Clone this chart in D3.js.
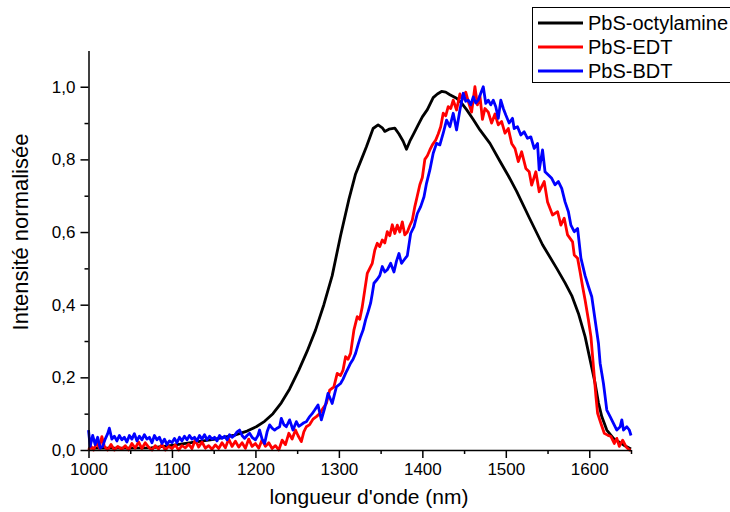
<!DOCTYPE html>
<html><head><meta charset="utf-8">
<script src="https://cdn.jsdelivr.net/npm/d3@7"></script>
<style>
html,body{margin:0;padding:0;background:#fff;}
svg{display:block;}
text{font-family:"Liberation Sans",Arial,sans-serif;fill:#000;}
</style></head>
<body><svg id="chart" width="730" height="512"></svg>
<script>
// ---- data ----
const seriesNames = ["PbS-octylamine", "PbS-EDT", "PbS-BDT"];
const seriesColors = ["#000000", "#ff0000", "#0000ff"];
const xTickLabels = [1000, 1100, 1200, 1300, 1400, 1500, 1600];
const yTickLabels = ["0,0", "0,2", "0,4", "0,6", "0,8", "1,0"];

const octylWl = [1000,1050,1075,1100,1125,1150,1175,1190,1201,1211,1221,1231,1241,1252,1262,1272,1282,1292,1302,1312,1320,1327,1333,1341,1347,1352,1355,1360,1367,1372,1377,1381,1385,1390,1395,1400,1406,1413,1418,1423,1428,1433,1441,1447,1453,1461,1469,1481,1493,1503,1513,1528,1544,1561,1571,1579,1587,1595,1601,1607,1611,1615,1621,1629,1641,1650];
const octylVal = [0.005,0.005,0.006,0.013,0.021,0.029,0.041,0.052,0.064,0.079,0.100,0.130,0.168,0.220,0.272,0.330,0.400,0.480,0.590,0.690,0.760,0.800,0.835,0.885,0.895,0.887,0.877,0.883,0.886,0.870,0.850,0.828,0.850,0.872,0.895,0.917,0.937,0.970,0.980,0.987,0.985,0.978,0.968,0.955,0.937,0.910,0.881,0.844,0.795,0.755,0.712,0.640,0.565,0.500,0.460,0.425,0.376,0.312,0.248,0.184,0.130,0.092,0.055,0.032,0.014,0.003];

const edtWl = [1000,1003,1006,1010,1013,1016,1019,1023,1027,1031,1035,1040,1044,1048,1052,1056,1060,1064,1068,1072,1076,1080,1084,1088,1092,1096,1100,1104,1108,1112,1116,1120,1124,1128,1132,1136,1140,1144,1148,1152,1156,1160,1164,1168,1172,1176,1180,1184,1188,1192,1196,1200,1204,1208,1212,1216,1220,1224,1228,1232,1236,1240,1244,1248,1251,1255,1258,1261,1265,1269,1273,1277,1281,1285,1289,1294,1298,1302,1305,1308,1311,1314,1318,1322,1325,1328,1331,1334,1337,1340,1343,1346,1349,1352,1355,1358,1361,1364,1367,1370,1373,1376,1379,1382,1385,1388,1391,1394,1397,1400,1403,1406,1409,1412,1416,1419,1422,1425,1428,1431,1434,1437,1441,1445,1448,1452,1455,1459,1463,1466,1469,1472,1475,1479,1483,1487,1491,1495,1499,1503,1507,1511,1515,1519,1524,1528,1531,1536,1540,1546,1550,1556,1562,1566,1570,1574,1580,1582,1586,1589,1592,1595,1599,1602,1604,1606,1608,1610,1614,1618,1622,1626,1630,1633,1636,1640,1644,1648,1650];
const edtVal = [0.000,0.010,0.000,0.020,0.005,0.037,0.010,0.000,0.015,0.000,0.010,0.002,0.012,0.000,0.018,0.005,0.022,0.004,0.020,0.008,0.000,0.012,0.003,0.015,0.000,0.010,0.004,0.014,0.000,0.012,0.006,0.016,0.004,0.028,0.008,0.022,0.005,0.012,0.002,0.014,0.004,0.020,0.006,0.030,0.010,0.024,0.008,0.020,0.005,0.030,0.010,0.018,0.005,0.028,0.010,0.020,0.004,0.012,0.000,0.027,0.015,0.046,0.030,0.055,0.040,0.023,0.050,0.064,0.070,0.085,0.092,0.100,0.115,0.128,0.165,0.174,0.211,0.205,0.220,0.257,0.250,0.266,0.330,0.367,0.360,0.394,0.440,0.486,0.500,0.514,0.550,0.569,0.560,0.578,0.570,0.601,0.590,0.620,0.596,0.619,0.600,0.628,0.592,0.600,0.618,0.633,0.670,0.700,0.730,0.750,0.800,0.810,0.826,0.840,0.853,0.870,0.890,0.927,0.920,0.945,0.940,0.963,0.936,0.980,0.965,0.985,0.960,0.930,1.000,0.950,0.975,0.910,0.940,0.930,0.900,0.925,0.895,0.904,0.872,0.885,0.844,0.830,0.794,0.821,0.775,0.766,0.729,0.766,0.711,0.739,0.683,0.647,0.656,0.619,0.638,0.592,0.573,0.537,0.528,0.490,0.450,0.413,0.358,0.312,0.257,0.202,0.147,0.101,0.073,0.046,0.041,0.037,0.018,0.032,0.010,0.027,0.009,0.000,0.000];

const bdtWl = [1000,1002,1005,1008,1011,1014,1017,1020,1023,1025,1028,1031,1034,1037,1040,1043,1046,1049,1052,1055,1058,1061,1064,1067,1070,1073,1076,1079,1082,1085,1088,1091,1094,1097,1100,1103,1106,1109,1112,1115,1118,1121,1124,1127,1130,1133,1136,1139,1142,1145,1148,1151,1154,1157,1160,1163,1166,1169,1172,1175,1178,1181,1184,1187,1190,1193,1196,1200,1203,1205,1208,1211,1214,1217,1220,1223,1226,1229,1231,1234,1237,1241,1245,1249,1252,1255,1258,1261,1265,1268,1271,1275,1279,1283,1287,1292,1297,1302,1305,1308,1311,1314,1317,1320,1323,1326,1329,1332,1335,1338,1340,1342,1346,1349,1352,1355,1358,1362,1366,1369,1372,1375,1378,1382,1386,1390,1394,1398,1402,1405,1409,1413,1417,1421,1425,1429,1433,1437,1441,1445,1449,1452,1455,1458,1461,1464,1467,1470,1473,1476,1479,1482,1485,1488,1491,1494,1497,1500,1504,1508,1510,1514,1518,1522,1526,1530,1534,1538,1540,1544,1547,1551,1555,1559,1563,1567,1571,1575,1578,1582,1586,1590,1595,1599,1603,1607,1611,1613,1615,1617,1619,1621,1625,1629,1633,1637,1639,1641,1645,1648,1650];
const bdtVal = [0.055,0.010,0.040,0.015,0.035,0.005,0.010,0.030,0.045,0.060,0.030,0.038,0.025,0.040,0.028,0.035,0.022,0.040,0.030,0.045,0.025,0.038,0.028,0.042,0.030,0.035,0.020,0.040,0.028,0.035,0.018,0.030,0.015,0.025,0.020,0.032,0.020,0.035,0.025,0.038,0.028,0.040,0.030,0.035,0.025,0.040,0.030,0.042,0.028,0.038,0.030,0.035,0.025,0.040,0.032,0.038,0.028,0.042,0.035,0.040,0.050,0.055,0.040,0.032,0.040,0.046,0.035,0.028,0.040,0.055,0.030,0.018,0.050,0.069,0.060,0.055,0.060,0.064,0.087,0.070,0.064,0.083,0.055,0.078,0.065,0.070,0.075,0.078,0.092,0.100,0.110,0.124,0.083,0.115,0.156,0.128,0.174,0.183,0.195,0.211,0.225,0.239,0.250,0.266,0.290,0.312,0.330,0.358,0.380,0.404,0.430,0.459,0.470,0.480,0.505,0.490,0.496,0.514,0.490,0.520,0.541,0.514,0.523,0.535,0.596,0.615,0.651,0.670,0.697,0.734,0.771,0.817,0.844,0.840,0.872,0.908,0.890,0.927,0.881,0.936,0.982,0.960,0.963,0.950,0.972,0.955,0.963,0.982,1.000,0.954,0.963,0.950,0.963,0.945,0.913,0.963,0.940,0.922,0.900,0.913,0.885,0.890,0.867,0.876,0.858,0.862,0.830,0.844,0.771,0.826,0.766,0.757,0.748,0.730,0.739,0.720,0.683,0.656,0.619,0.601,0.610,0.528,0.480,0.450,0.422,0.358,0.294,0.239,0.211,0.183,0.147,0.110,0.092,0.073,0.055,0.064,0.083,0.055,0.064,0.055,0.040];

// ---- drawing ----
const svg = d3.select("#chart");
svg.append("rect").attr("width",730).attr("height",512).attr("fill","#fff");

const x = d3.scaleLinear().domain([1000,1650]).range([88.5,631]);
const y = d3.scaleLinear().domain([0,1.1]).range([450,50.4]);

const series = [
  {name: seriesNames[0], color: seriesColors[0], wl: octylWl, val: octylVal},
  {name: seriesNames[1], color: seriesColors[1], wl: edtWl, val: edtVal},
  {name: seriesNames[2], color: seriesColors[2], wl: bdtWl, val: bdtVal}
];

const line = d3.line().x(d => x(d[0])).y(d => y(d[1]));
const plot = svg.append("g");
series.forEach(s => {
  plot.append("path")
    .datum(s.wl.map((w,i) => [w, s.val[i]]))
    .attr("fill","none")
    .attr("stroke", s.color)
    .attr("stroke-width", 2.8)
    .attr("stroke-linejoin","round")
    .attr("d", line);
});

// axes
const xMinor = d3.range(1050, 1651, 100);
const yMinor = [0.1,0.3,0.5,0.7,0.9];
const yMajor = [0,0.2,0.4,0.6,0.8,1.0];

const gxMinor = svg.append("g").attr("transform","translate(0,450)")
  .call(d3.axisBottom(x).tickValues(xMinor).tickSize(4).tickSizeOuter(0).tickFormat(""));
gxMinor.select(".domain").remove();
const gx = svg.append("g").attr("transform","translate(0,450)")
  .call(d3.axisBottom(x).tickValues(xTickLabels).tickSize(8).tickSizeOuter(0).tickPadding(5).tickFormat(d3.format("d")));

const gyMinor = svg.append("g").attr("transform","translate(88.5,0)")
  .call(d3.axisLeft(y).tickValues(yMinor).tickSize(4).tickSizeOuter(0).tickFormat(""));
gyMinor.select(".domain").remove();
const gy = svg.append("g").attr("transform","translate(88.5,0)")
  .call(d3.axisLeft(y).tickValues(yMajor).tickSize(8).tickSizeOuter(0).tickPadding(5)
    .tickFormat((d,i) => yTickLabels[i]));

[gx, gy, gxMinor, gyMinor].forEach(g => {
  g.selectAll("path, line").attr("stroke","#000").attr("stroke-width",1.5);
  g.selectAll("text").style("font-family","'Liberation Sans', Arial, sans-serif").style("font-size","17px").attr("fill","#000");
});

// axis titles
svg.append("text").attr("x",369).attr("y",504).attr("text-anchor","middle")
  .style("font-size","21px").text("longueur d'onde (nm)");
svg.append("text").attr("transform","translate(28,232) rotate(-90)").attr("text-anchor","middle")
  .style("font-size","22px").text("Intensité normalisée");

// legend
const lg = svg.append("g");
lg.append("rect").attr("x",532.5).attr("y",7.5).attr("width",210).attr("height",75)
  .attr("fill","#fff").attr("stroke","#000").attr("stroke-width",1);
series.forEach((s,i) => {
  const yy = 23 + i*24;
  lg.append("line").attr("x1",538).attr("x2",583).attr("y1",yy).attr("y2",yy)
    .attr("stroke", s.color).attr("stroke-width",2.8);
  lg.append("text").attr("x",588).attr("y",yy+7).style("font-size","20px").text(s.name);
});
</script></body></html>
